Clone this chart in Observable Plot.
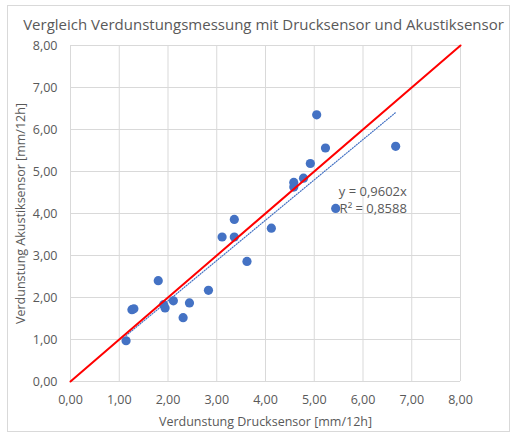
<!DOCTYPE html>
<html>
<head>
<meta charset="utf-8">
<script src="https://cdn.jsdelivr.net/npm/d3@7"></script>
<script src="https://cdn.jsdelivr.net/npm/@observablehq/plot@0.6"></script>
<style>
  html, body { margin: 0; padding: 0; background: #fff; }
  #wrap { position: relative; width: 516px; height: 435px; overflow: hidden; font-family: "Open Sans", sans-serif; }
  #frame { position: absolute; left: 7px; top: 5px; width: 503px; height: 427px; border: 1px solid #d9d9d9; box-sizing: border-box; }
  #title { position: absolute; left: 0; top: 0; width: 527px; height: 36px; line-height: 48px; text-align: center; font-size: 15px; color: #595959; white-space: nowrap; }
  #chart { position: absolute; left: 0; top: 36px; }
</style>
</head>
<body>
<div id="wrap">
  <div id="frame"></div>
  <div id="title">Vergleich Verdunstungsmessung mit Drucksensor und Akustiksensor</div>
  <div id="chart"></div>
</div>
<script>
// Data
const drucksensor = [1.14, 1.26, 1.30, 1.80, 1.91, 1.94, 2.11, 2.31, 2.44, 2.83, 3.11, 3.36, 3.36, 3.62, 4.12, 4.58, 4.58, 4.78, 4.92, 5.05, 5.23, 5.44, 6.67];
const akustiksensor = [0.97, 1.71, 1.73, 2.40, 1.83, 1.75, 1.92, 1.52, 1.87, 2.17, 3.44, 3.86, 3.44, 2.86, 3.65, 4.74, 4.63, 4.84, 5.19, 6.35, 5.56, 4.12, 5.60];
const slope = 0.9602;
const rSquared = 0.8588;
const xTicks = [0, 1, 2, 3, 4, 5, 6, 7, 8];
const yTicks = [0, 1, 2, 3, 4, 5, 6, 7, 8];
const identityEnds = [0, 8];
const eqLabelX = 6.9;
const eqLabelY = [4.52, 4.12];

const points = drucksensor.map((x, i) => ({x, y: akustiksensor[i]}));
const xMin = d3.min(drucksensor), xMax = d3.max(drucksensor);
const trend = [xMin, xMax].map(x => ({x, y: slope * x}));
const identity = identityEnds.map(v => ({x: v, y: v}));
const fmt = v => v.toFixed(2).replace(".", ",");
const eqLines = [
  {text: "y = " + String(slope).replace(".", ",") + "x", y: eqLabelY[0]},
  {text: "R² = " + String(rSquared).replace(".", ","), y: eqLabelY[1]}
];

const chart = Plot.plot({
  width: 516,
  height: 399,
  marginTop: 9,
  marginBottom: 54,
  marginLeft: 70,
  marginRight: 56,
  style: {fontFamily: "Open Sans, sans-serif", fontSize: "12.5px", color: "#595959", background: "transparent"},
  x: {domain: [0, 8]},
  y: {domain: [0, 8]},
  marks: [
    Plot.gridX(xTicks, {stroke: "#d9d9d9", strokeOpacity: 1}),
    Plot.gridY(yTicks, {stroke: "#d9d9d9", strokeOpacity: 1}),
    Plot.axisX(xTicks, {tickSize: 0, tickPadding: 14, tickFormat: fmt, fill: "#595959",
      label: "Verdunstung Drucksensor [mm/12h]", labelAnchor: "center", labelOffset: 44, labelArrow: "none"}),
    Plot.axisY(yTicks, {tickSize: 0, tickPadding: 13, tickFormat: fmt, fill: "#595959",
      label: "Verdunstung Akustiksensor [mm/12h]", labelAnchor: "center", labelOffset: 54, labelArrow: "none"}),
    Plot.dot(points, {x: "x", y: "y", r: 4.6, fill: "#4472C4", stroke: "none"}),
    Plot.line(trend, {x: "x", y: "y", stroke: "#4472C4", strokeWidth: 1.2, strokeDasharray: "1,1.6"}),
    Plot.line(identity, {x: "x", y: "y", stroke: "#ff0000", strokeWidth: 2}),
    Plot.text(eqLines, {x: () => eqLabelX, y: "y", text: "text", textAnchor: "end", fill: "#595959", fontSize: 13})
  ]
});
document.getElementById("chart").appendChild(chart);
</script>
</body>
</html>
